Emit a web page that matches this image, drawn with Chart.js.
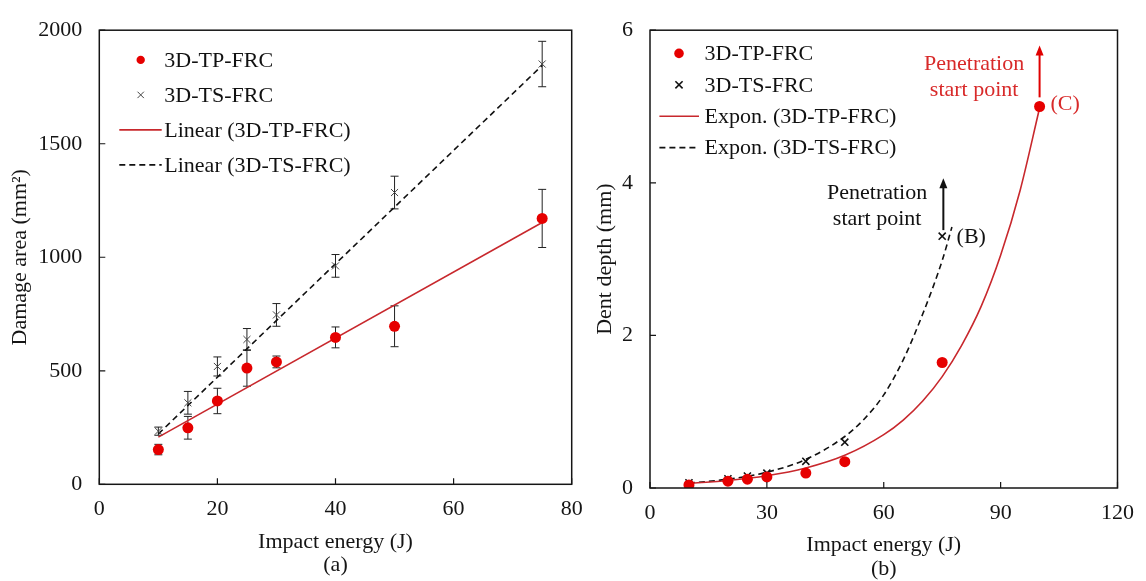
<!DOCTYPE html>
<html>
<head>
<meta charset="utf-8">
<script src="https://cdn.jsdelivr.net/npm/chart.js@4.4.1/dist/chart.umd.min.js"></script>
<style>
html, body { margin: 0; padding: 0; background: #fff; }
#wrap { position: relative; width: 1146px; height: 581px; overflow: hidden; }
.box { position: absolute; top: 0; height: 581px; }
#boxA { left: 0; width: 600px; }
#boxB { left: 590px; width: 556px; }
</style>
</head>
<body>
<div id="wrap">
  <div class="box" id="boxA"><canvas id="chartA"></canvas></div>
  <div class="box" id="boxB"><canvas id="chartB"></canvas></div>
</div>
<script>
// (a) damage area vs impact energy
var energyA = [10, 15, 20, 25, 30, 40, 50, 75];
var tpArea = [153, 249, 367, 512, 539, 647, 696, 1171];
var tpAreaErr = [23, 50, 56, 80, 26, 46, 90, 128];
var tsArea = [234, 359, 519, 638, 746, 962, 1285, 1851];
var tsAreaErr = [18, 50, 42, 48, 50, 50, 72, 100];
var tpLinearX = [10, 75];
var tpLinearY = [208, 1153];
var tsLinearX = [10, 75];
var tsLinearY = [222, 1845];
var xTicksA = [0, 20, 40, 60, 80];
var yTicksA = [0, 500, 1000, 1500, 2000];

// (b) dent depth vs impact energy
var tpEnergyB = [10, 20, 25, 30, 40, 50, 75, 100];
var tpDepth = [0.04, 0.09, 0.115, 0.145, 0.195, 0.345, 1.645, 5.0];
var tsEnergyB = [10, 20, 25, 30, 40, 50, 75];
var tsDepth = [0.068, 0.12, 0.157, 0.195, 0.35, 0.6, 3.3];
var tpExpX = [10, 20, 30, 40, 50, 60, 65, 70, 75, 80, 85, 90, 95, 100];
var tpExpY = [0.06, 0.098, 0.16, 0.262, 0.428, 0.699, 0.89, 1.14, 1.46, 1.87, 2.38, 3.05, 3.9, 4.98];
var tsExpX = [10, 20, 30, 40, 50, 55, 60, 65, 70, 75, 77.5];
var tsExpY = [0.064, 0.115, 0.207, 0.375, 0.675, 0.905, 1.22, 1.68, 2.28, 2.98, 3.42];
var xTicksB = [0, 30, 60, 90, 120];
var yTicksB = [0, 2, 4, 6];

// callouts on (b)
var notesB = [
  {lines: ['Penetration', 'start point'], x: 83.2, y: 5.55, color: '#d82a2a', align: 'center'},
  {lines: ['(C)'], x: 102.8, y: 5.03, color: '#d82a2a', align: 'left'},
  {lines: ['Penetration', 'start point'], x: 58.3, y: 3.86, color: '#111', align: 'center'},
  {lines: ['(B)'], x: 78.7, y: 3.29, color: '#111', align: 'left'}
];
var arrowsB = [
  {x: 100, from: 5.12, to: 5.8, color: '#e00000'},
  {x: 75.3, from: 3.38, to: 4.06, color: '#111'}
];

var serif = "'Liberation Serif', 'Times New Roman', serif";
var RED = '#e60000';
var LINE_RED = '#c8282d';
var INK = '#151515';

function pairs(xs, ys) {
  return xs.map(function(x, i) { return {x: x, y: ys[i]}; });
}

var errorBars = {
  id: 'errorBars',
  beforeDatasetsDraw: function(chart) {
    var ctx = chart.ctx, xs = chart.scales.x, ys = chart.scales.y;
    ctx.save();
    ctx.strokeStyle = '#222';
    ctx.lineWidth = 1;
    chart.data.datasets.forEach(function(ds) {
      if (!ds.errors) return;
      ds.data.forEach(function(p, i) {
        var px = xs.getPixelForValue(p.x);
        var t = ys.getPixelForValue(p.y + ds.errors[i]);
        var b = ys.getPixelForValue(p.y - ds.errors[i]);
        ctx.beginPath();
        ctx.moveTo(px, t); ctx.lineTo(px, b);
        ctx.moveTo(px - 4, t); ctx.lineTo(px + 4, t);
        ctx.moveTo(px - 4, b); ctx.lineTo(px + 4, b);
        ctx.stroke();
      });
    });
    ctx.restore();
  }
};

var frame = {
  id: 'frame',
  afterDraw: function(chart) {
    var ctx = chart.ctx, a = chart.chartArea, xs = chart.scales.x, ys = chart.scales.y;
    ctx.save();
    ctx.strokeStyle = INK;
    ctx.lineWidth = 1.5;
    ctx.strokeRect(a.left, a.top, a.right - a.left, a.bottom - a.top);
    ctx.lineWidth = 1.2;
    ctx.beginPath();
    xs.ticks.forEach(function(t) {
      var px = xs.getPixelForValue(t.value);
      ctx.moveTo(px, a.bottom); ctx.lineTo(px, a.bottom - 6);
    });
    ys.ticks.forEach(function(t) {
      var py = ys.getPixelForValue(t.value);
      ctx.moveTo(a.left, py); ctx.lineTo(a.left + 6, py);
    });
    ctx.stroke();
    ctx.restore();
  }
};

var boxLegend = {
  id: 'boxLegend',
  afterDraw: function(chart, args, o) {
    if (!o || !o.show) return;
    var ctx = chart.ctx, a = chart.chartArea;
    ctx.save();
    ctx.font = '22px ' + serif;
    ctx.textBaseline = 'middle';
    ctx.textAlign = 'left';
    chart.data.datasets.forEach(function(ds, i) {
      var y = a.top + o.rowTop + i * o.rowGap;
      var mx = a.left + o.markX;
      if (ds.showLine) {
        ctx.strokeStyle = ds.borderColor;
        ctx.lineWidth = ds.borderWidth;
        ctx.setLineDash(ds.borderDash || []);
        ctx.beginPath();
        ctx.moveTo(a.left + o.lineFrom, y); ctx.lineTo(a.left + o.lineTo, y);
        ctx.stroke();
        ctx.setLineDash([]);
      } else if (ds.pointStyle === 'circle') {
        ctx.fillStyle = ds.backgroundColor;
        ctx.beginPath(); ctx.arc(mx, y, o.dotR, 0, 2 * Math.PI); ctx.fill();
      } else {
        var r = o.crossR;
        ctx.strokeStyle = ds.borderColor;
        ctx.lineWidth = ds.borderWidth;
        ctx.beginPath();
        ctx.moveTo(mx - r, y - r); ctx.lineTo(mx + r, y + r);
        ctx.moveTo(mx - r, y + r); ctx.lineTo(mx + r, y - r);
        ctx.stroke();
      }
      ctx.fillStyle = '#111';
      ctx.fillText(ds.label, a.left + o.textX, y + 1);
    });
    ctx.restore();
  }
};

var callouts = {
  id: 'callouts',
  afterDraw: function(chart, args, o) {
    if (!o || !o.notes) return;
    var ctx = chart.ctx, xs = chart.scales.x, ys = chart.scales.y;
    ctx.save();
    ctx.font = '22px ' + serif;
    ctx.textBaseline = 'middle';
    o.notes.forEach(function(n) {
      ctx.fillStyle = n.color;
      ctx.textAlign = n.align;
      var px = xs.getPixelForValue(n.x), py = ys.getPixelForValue(n.y);
      n.lines.forEach(function(s, k) { ctx.fillText(s, px, py + k * 26); });
    });
    o.arrows.forEach(function(ar) {
      var px = xs.getPixelForValue(ar.x);
      var y0 = ys.getPixelForValue(ar.from), y1 = ys.getPixelForValue(ar.to);
      ctx.strokeStyle = ar.color;
      ctx.fillStyle = ar.color;
      ctx.lineWidth = 2;
      ctx.beginPath(); ctx.moveTo(px, y0); ctx.lineTo(px, y1 + 8); ctx.stroke();
      ctx.beginPath();
      ctx.moveTo(px, y1); ctx.lineTo(px - 4, y1 + 10); ctx.lineTo(px + 4, y1 + 10);
      ctx.closePath(); ctx.fill();
    });
    ctx.restore();
  }
};

function tickOpts(pad) {
  return {font: {family: serif, size: 22}, color: INK, padding: pad, maxRotation: 0,
          callback: function(v) { return String(v); }};
}

function axes(cfg) {
  return {
    x: {
      type: 'linear', min: cfg.xMin, max: cfg.xMax,
      afterBuildTicks: function(s) { s.ticks = cfg.xTicks.map(function(v) { return {value: v}; }); },
      afterFit: function(s) { s.height = cfg.xHeight; },
      grid: {display: false, drawTicks: false},
      border: {display: false},
      ticks: tickOpts(cfg.xPad),
      title: {display: true, text: cfg.xTitle, color: INK,
        font: {family: serif, size: 22, lineHeight: 1.06},
        padding: {top: 0, bottom: cfg.xTitlePad}}
    },
    y: {
      type: 'linear', min: cfg.yMin, max: cfg.yMax,
      afterBuildTicks: function(s) { s.ticks = cfg.yTicks.map(function(v) { return {value: v}; }); },
      afterFit: function(s) { s.width = cfg.yWidth; },
      grid: {display: false, drawTicks: false},
      border: {display: false},
      ticks: tickOpts(17),
      title: {display: true, text: cfg.yTitle, color: INK,
        font: {family: serif, size: 22},
        padding: {top: cfg.yTitlePad, bottom: 0}}
    }
  };
}

new Chart(document.getElementById('chartA'), {
  type: 'scatter',
  data: {
    datasets: [
      {label: '3D-TP-FRC', data: pairs(energyA, tpArea), errors: tpAreaErr,
       pointStyle: 'circle', pointRadius: 5.5, backgroundColor: RED, borderColor: RED, borderWidth: 0},
      {label: '3D-TS-FRC', data: pairs(energyA, tsArea), errors: tsAreaErr,
       pointStyle: 'crossRot', pointRadius: 5, borderColor: '#444', backgroundColor: '#444', borderWidth: 1},
      {label: 'Linear (3D-TP-FRC)', data: pairs(tpLinearX, tpLinearY), showLine: true,
       borderColor: LINE_RED, borderWidth: 1.6, pointRadius: 0},
      {label: 'Linear (3D-TS-FRC)', data: pairs(tsLinearX, tsLinearY), showLine: true,
       borderColor: '#111', borderWidth: 1.6, borderDash: [6, 4], pointRadius: 0}
    ]
  },
  options: {
    responsive: true, maintainAspectRatio: false, animation: false,
    layout: {padding: {top: 14.3, right: 28.3, bottom: 0, left: 0}},
    plugins: {
      legend: {display: false}, tooltip: {enabled: false},
      boxLegend: {show: true, rowTop: 29.7, rowGap: 35, markX: 41.4, lineFrom: 20, lineTo: 62.4,
                  textX: 65, dotR: 4.2, crossR: 3.2}
    },
    scales: axes({xMin: 0, xMax: 80, xTicks: xTicksA, xHeight: 96.7, xPad: 12,
                  xTitle: ['Impact energy (J)', '(a)'], xTitlePad: 4.3,
                  yMin: 0, yMax: 2000, yTicks: yTicksA, yWidth: 99.3,
                  yTitle: 'Damage area (mm\u00B2)', yTitlePad: 6.8})
  },
  plugins: [errorBars, frame, boxLegend]
});

new Chart(document.getElementById('chartB'), {
  type: 'scatter',
  data: {
    datasets: [
      {label: '3D-TP-FRC', data: pairs(tpEnergyB, tpDepth),
       pointStyle: 'circle', pointRadius: 5.5, backgroundColor: RED, borderColor: RED, borderWidth: 0},
      {label: '3D-TS-FRC', data: pairs(tsEnergyB, tsDepth),
       pointStyle: 'crossRot', pointRadius: 5, borderColor: '#111', backgroundColor: '#111', borderWidth: 1.6},
      {label: 'Expon. (3D-TP-FRC)', data: pairs(tpExpX, tpExpY), showLine: true,
       cubicInterpolationMode: 'monotone', borderColor: LINE_RED, borderWidth: 1.6, pointRadius: 0},
      {label: 'Expon. (3D-TS-FRC)', data: pairs(tsExpX, tsExpY), showLine: true,
       cubicInterpolationMode: 'monotone', borderColor: '#111', borderWidth: 1.6, borderDash: [6, 4], pointRadius: 0}
    ]
  },
  options: {
    responsive: true, maintainAspectRatio: false, animation: false,
    layout: {padding: {top: 17.5, right: 21, bottom: 0, left: 0}},
    plugins: {
      legend: {display: false}, tooltip: {enabled: false},
      boxLegend: {show: true, rowTop: 23.2, rowGap: 31.4, markX: 29, lineFrom: 9.4, lineTo: 49,
                  textX: 54.5, dotR: 4.8, crossR: 3.6},
      callouts: {notes: notesB, arrows: arrowsB}
    },
    scales: axes({xMin: 0, xMax: 120, xTicks: xTicksB, xHeight: 93, xPad: 12,
                  xTitle: ['Impact energy (J)', '(b)'], xTitlePad: 0.4,
                  yMin: 0, yMax: 6, yTicks: yTicksB, yWidth: 60,
                  yTitle: 'Dent depth (mm)', yTitlePad: 1.8})
  },
  plugins: [frame, boxLegend, callouts]
});
</script>
</body>
</html>
